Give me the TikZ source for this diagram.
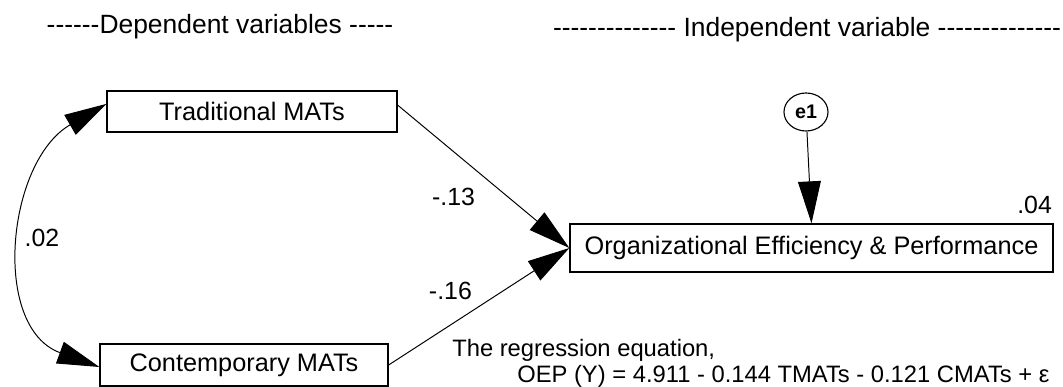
\documentclass[tikz,border=0pt]{standalone}
\usepackage{fontspec}
\setmainfont{Liberation Sans}
\usetikzlibrary{arrows.meta,shapes.geometric}
% a run of single hyphens (kept apart so they do not turn into dashes)
\newcommand{\hyrun}[1]{\foreach \i in {1,...,#1}{\mbox{-}}}
\begin{document}
\begin{tikzpicture}[
  var/.style={draw,line width=0.9pt,inner sep=0pt,font=\fontsize{18}{20}\selectfont},
  lbl/.style={font=\fontsize{17.7}{20}\selectfont},
  head/.style={font=\fontsize{18.8}{22}\selectfont},
  eqn/.style={font=\fontsize{16.9}{20}\selectfont,inner sep=0pt},
  bigtip/.tip={Triangle[length=1.05cm,width=0.57cm]},
  regarrow/.style={line width=0.7pt,-bigtip},
  covarrow/.style={line width=0.7pt,bigtip-bigtip},
]
\useasboundingbox (0,0) rectangle (26.575,9.675);
% headings
\node[head] (hdep) at (5.5,9.0) {\hyrun{6}Dependent variables \hyrun{5}};
\node[head] (hind) at (20.175,8.925) {\hyrun{14} Independent variable \hyrun{14}};
% observed variables
\node[var,minimum width=7.25cm,minimum height=1.025cm] (trad) at (6.3,6.8875) {Traditional MATs};
\node[var,minimum width=7.2cm,minimum height=1.05cm] (cont) at (6.1,0.55) {Contemporary MATs};
\node[var,minimum width=12.075cm,minimum height=1.2cm] (oep) at (20.2875,3.475) {Organizational Efficiency \& Performance};
\node[ellipse,draw,line width=0.8pt,minimum width=1.1cm,minimum height=0.95cm,inner sep=0pt,
  font=\bfseries\fontsize{14}{16}\selectfont] (e1) at (20.15,6.875) {e1};
% paths
\draw[regarrow] (e1) -- (oep.north);
\draw[regarrow] ([yshift=0.16cm]trad.east) -- (oep.west);
\draw[regarrow] (cont.east) -- (oep.west);
\draw[covarrow] ([yshift=0.19cm]trad.west) to[out=210,in=160,looseness=1.12] ([yshift=-0.05cm]cont.west);
% estimates
\node[lbl] (r02) at (1.05,3.725) {.02};
\node[lbl] (r13) at (11.34,4.75) {-.13};
\node[lbl] (r16) at (11.26,2.4) {-.16};
\node[lbl,anchor=east] (r04) at (26.42,4.55) {.04};
% regression equation
\node[eqn,anchor=base west] (eqa) at (11.3,0.75) {The regression equation,};
\node[eqn,anchor=base west] (eqb) at (12.925,0.1) {OEP (Y) = 4.911 - 0.144 TMATs - 0.121 CMATs + ε};
\end{tikzpicture}
\end{document}
